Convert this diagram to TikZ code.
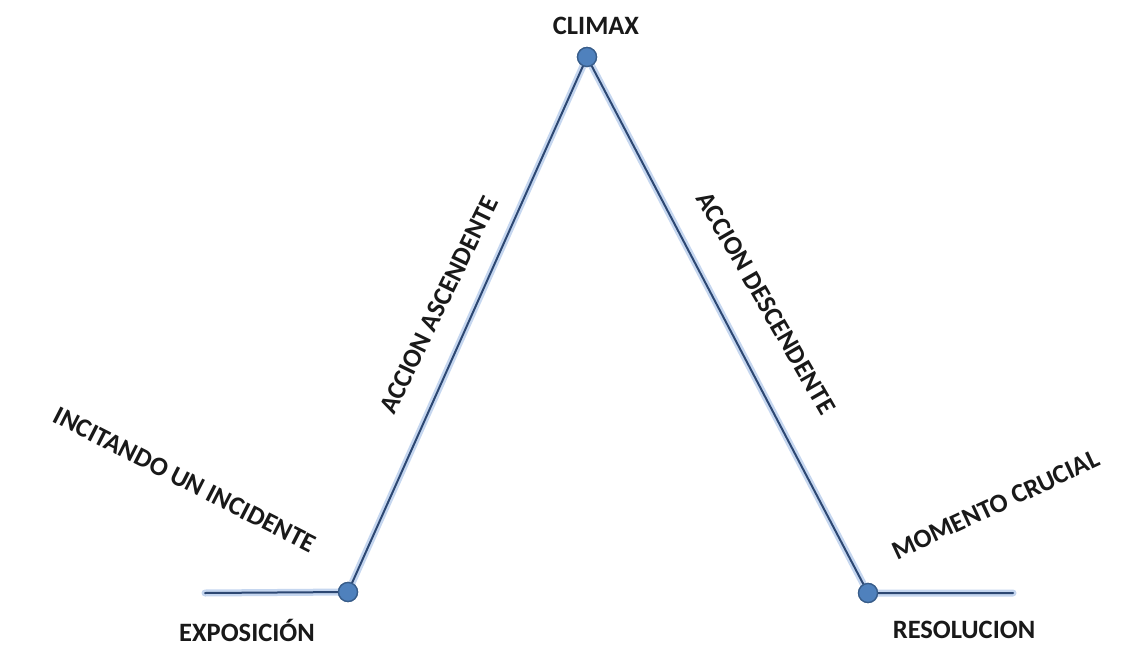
\documentclass[tikz,border=0pt]{standalone}
\usepackage{fontspec}
\setmainfont{Carlito}
\definecolor{dotblue}{RGB}{79,129,189}
\definecolor{dotedge}{RGB}{56,93,138}
\definecolor{linecol}{RGB}{45,72,115}
\definecolor{glowcol}{RGB}{140,175,225}
\begin{document}
\begin{tikzpicture}[x=1pt,y=-1pt,
  dotnode/.style={circle,fill=dotblue,draw=dotedge,line width=1.3pt,minimum size=19pt,inner sep=0pt},
  lbl/.style={font=\fontsize{26.5}{26.5}\selectfont\bfseries,text=black!90,inner sep=0pt},
  glow/.style={line width=7pt,draw=glowcol,opacity=0.5,line cap=round},
  mainline/.style={line width=2pt,draw=linecol,line cap=round}]
\useasboundingbox (0,0) rectangle (1134,647);
\fill[white] (0,0) rectangle (1134,647);
\coordinate (s) at (205,593);
\coordinate (t) at (1013,593);
\node[dotnode] (e) at (348,592) {};
\node[dotnode] (c) at (587,57) {};
\node[dotnode] (r) at (868,593) {};
\draw[glow] (s) -- (e.center) -- (c.center) -- (r.center) -- (t);
\draw[mainline] (s) -- (e.center) -- (c.center) -- (r.center) -- (t);
\node[dotnode] at (e) {};
\node[dotnode] at (c) {};
\node[dotnode] at (r) {};
\node[lbl] (lclimax) at (596,26) {CLIMAX};
\node[lbl] (lexpo) at (247,630) {EXPOSICIÓN};
\node[lbl] (lreso) at (964,630) {RESOLUCION};
\node[lbl,rotate=-27] (linc) at (185,480) {INCITANDO UN INCIDENTE};
\node[lbl,rotate=64] (lasc) at (439,305) {ACCION ASCENDENTE};
\node[lbl,rotate=-60] (ldesc) at (766,303) {ACCION DESCENDENTE};
\node[lbl,rotate=25] (lmom) at (996,505) {MOMENTO CRUCIAL};
\end{tikzpicture}
\end{document}
